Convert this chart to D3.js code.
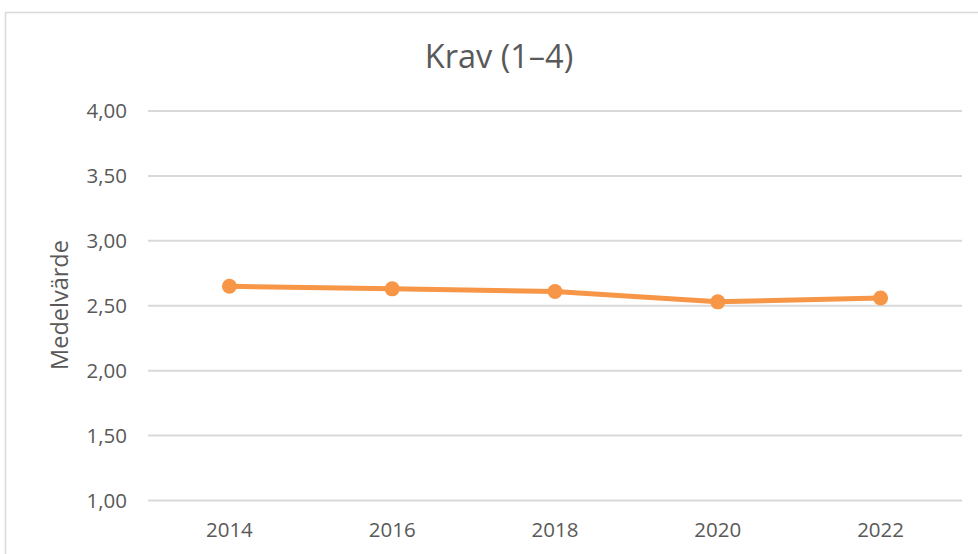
<!DOCTYPE html>
<html><head><meta charset="utf-8">
<script src="https://cdn.jsdelivr.net/npm/d3@7"></script>
<style>body{margin:0;background:#fff;}svg{display:block;}</style>
</head><body>
<div id="chart"></div>
<script>
const years = ["2014","2016","2018","2020","2022"];
const values = [2.65, 2.63, 2.61, 2.53, 2.56];
const yTicks = [1.0, 1.5, 2.0, 2.5, 3.0, 3.5, 4.0];
const title = "Krav (1–4)";
const yTitle = "Medelvärde";

const W = 978, H = 554;
const svg = d3.select("#chart").append("svg").attr("width", W).attr("height", H);
svg.append("rect").attr("x", 5.5).attr("y", 12.5).attr("width", 990).attr("height", 600)
  .attr("fill", "#fff").attr("stroke", "#d9d9d9").attr("stroke-width", 1.5);

const font = "'Open Sans', sans-serif";
const x = d3.scaleBand().domain(years).range([148, 962]);
const y = d3.scaleLinear().domain([1, 4]).range([500.5, 111]);

svg.append("g").selectAll("line").data(yTicks).join("line")
  .attr("x1", 148).attr("x2", 962)
  .attr("y1", d => y(d)).attr("y2", d => y(d))
  .attr("stroke", "#d9d9d9").attr("stroke-width", 2);

const fmt = d => d3.format(".2f")(d).replace(".", ",");
svg.append("g").selectAll("text").data(yTicks).join("text")
  .attr("x", 127).attr("y", d => y(d)).attr("dy", "0.35em")
  .attr("text-anchor", "end").attr("fill", "#595959")
  .style("font-family", font).style("font-size", "20.5px").text(fmt);

svg.append("g").selectAll("text").data(years).join("text")
  .attr("x", d => x(d) + x.bandwidth() / 2).attr("y", 530).attr("dy", "0.35em")
  .attr("text-anchor", "middle").attr("fill", "#595959")
  .style("font-family", font).style("font-size", "20.5px").text(d => d);

svg.append("text").attr("transform", "translate(60,305) rotate(-90)")
  .attr("text-anchor", "middle").attr("dy", "0.35em").attr("fill", "#595959")
  .style("font-family", font).style("font-size", "23.5px").text(yTitle);

svg.append("text").attr("x", 499).attr("y", 57).attr("dy", "0.35em")
  .attr("text-anchor", "middle").attr("fill", "#595959")
  .style("font-family", font).style("font-size", "32.5px").text(title);

const data = years.map((yr, i) => ({yr, v: values[i]}));
const line = d3.line().x(d => x(d.yr) + x.bandwidth() / 2).y(d => y(d.v));
svg.append("path").datum(data).attr("d", line).attr("fill", "none")
  .attr("stroke", "#F79646").attr("stroke-width", 5).attr("stroke-linejoin", "round");
svg.append("g").selectAll("circle").data(data).join("circle")
  .attr("cx", d => x(d.yr) + x.bandwidth() / 2).attr("cy", d => y(d.v))
  .attr("r", 7.5).attr("fill", "#F79646");
</script>
</body></html>
